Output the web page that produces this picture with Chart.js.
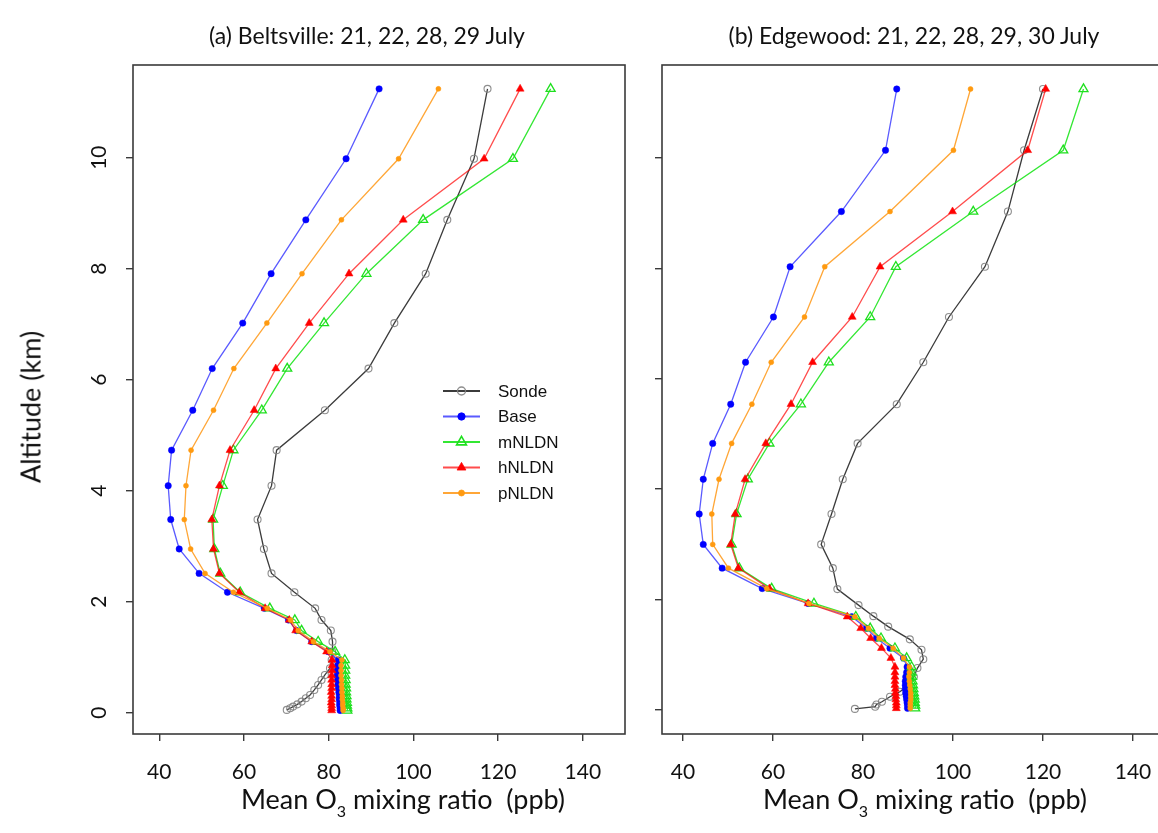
<!DOCTYPE html>
<html>
<head>
<meta charset="utf-8">
<script src="https://cdn.jsdelivr.net/npm/chart.js@4.4.1/dist/chart.umd.min.js"></script>
<style>
  html, body { margin: 0; padding: 0; background: #fff; overflow: hidden; width: 1158px; height: 833px; }
  #wrap { position: relative; width: 1158px; height: 833px; overflow: hidden; }
  canvas { position: absolute; top: 0; }
  #cA { left: 0; }
  #cB { left: 640px; }
  .lbl { position: absolute; font-family: Lato, "Open Sans", sans-serif; color: #111; white-space: nowrap; transform: translate(-50%, -50%); }
  .ttl { font-size: 23px; }
  .axt { font-size: 27px; }
  .axt sub { font-size: 16px; vertical-align: -8px; }
  .rot { transform: translate(-50%, -50%) rotate(-90deg); }
</style>
</head>
<body>
<div id="wrap">
  <canvas id="cA" width="640" height="833"></canvas>
  <canvas id="cB" width="560" height="833"></canvas>
  <div class="lbl ttl" style="left:367px; top:35px;">(a) Beltsville: 21, 22, 28, 29 July</div>
  <div class="lbl ttl" style="left:914px; top:35px;">(b) Edgewood: 21, 22, 28, 29, 30 July</div>
  <div class="lbl axt" style="left:403px; top:801px;">Mean O<sub>3</sub> mixing ratio&nbsp; (ppb)</div>
  <div class="lbl axt" style="left:925px; top:801px;">Mean O<sub>3</sub> mixing ratio&nbsp; (ppb)</div>
  <div class="lbl axt rot" style="left:30px; top:407px;">Altitude (km)</div>
</div>
<script>
// ---- tick values ----
const xTickValues = [40, 60, 80, 100, 120, 140];
const yTickValues = [0, 2, 4, 6, 8, 10];

// ---- (a) Beltsville ----
// model layer altitudes (km)
const altModelA = [0.04, 0.08, 0.13, 0.18, 0.24, 0.30, 0.37, 0.44, 0.51, 0.59, 0.67, 0.76, 0.85, 0.95,
  1.10, 1.28, 1.48, 1.67, 1.88, 2.17, 2.51, 2.95, 3.48, 4.09, 4.73, 5.45, 6.20, 7.02, 7.91, 8.88, 9.98, 11.24];
const baseA = [82.7, 82.7, 82.6, 82.6, 82.5, 82.5, 82.4, 82.3, 82.2, 82.1, 82.0, 82.0, 82.1, 82.3,
  79.9, 76.0, 72.4, 70.5, 64.8, 56.1, 49.4, 44.7, 42.7, 42.1, 42.9, 47.9, 52.5, 59.7, 66.4, 74.6, 84.1, 91.9];
const mNLDNA = [84.4, 84.4, 84.3, 84.3, 84.2, 84.2, 84.1, 84.1, 84.0, 84.0, 83.9, 83.9, 83.9, 83.8,
  81.5, 77.5, 73.6, 72.0, 66.1, 59.1, 54.4, 53.0, 52.7, 55.0, 57.5, 64.2, 70.2, 78.9, 88.9, 102.3, 123.5, 132.4];
const hNLDNA = [80.7, 80.7, 80.7, 80.6, 80.7, 80.7, 80.6, 80.7, 80.7, 80.7, 80.7, 80.8, 80.8, 80.8,
  79.5, 76.0, 72.2, 70.7, 65.0, 58.9, 54.2, 52.8, 52.4, 54.2, 56.7, 62.4, 67.5, 75.4, 84.8, 97.6, 116.7, 125.2];
const pNLDNA = [83.4, 83.4, 83.3, 83.3, 83.2, 83.2, 83.1, 83.1, 83.0, 83.0, 82.9, 82.9, 82.9, 83.1,
  80.3, 76.4, 72.8, 71.0, 65.5, 57.5, 50.8, 47.4, 45.9, 46.3, 47.5, 52.8, 57.6, 65.4, 73.7, 83.0, 96.5, 105.9];
// ozonesonde profile
const altSondeA = [0.05, 0.08, 0.11, 0.15, 0.20, 0.26, 0.32, 0.41, 0.50, 0.59, 0.68, 0.80, 0.95, 1.10,
  1.28, 1.48, 1.67, 1.88, 2.17, 2.51, 2.95, 3.48, 4.09, 4.73, 5.45, 6.20, 7.02, 7.91, 8.88, 9.98, 11.24];
const sondeA = [70.1, 70.9, 71.6, 72.6, 73.6, 74.6, 75.6, 76.6, 77.5, 78.3, 79.1, 80.3, 80.7, 80.8,
  80.9, 80.5, 78.3, 76.8, 71.9, 66.5, 64.7, 63.2, 66.5, 67.7, 79.1, 89.4, 95.5, 102.9, 108.0, 114.3, 117.5];

// ---- (b) Edgewood ----
const altModelB = [0.03, 0.08, 0.13, 0.19, 0.25, 0.31, 0.38, 0.45, 0.52, 0.60, 0.68, 0.78, 0.94, 1.12,
  1.30, 1.48, 1.69, 1.93, 2.20, 2.57, 3.00, 3.55, 4.18, 4.83, 5.54, 6.30, 7.12, 8.03, 9.03, 10.14, 11.25];
const baseB = [89.9, 89.9, 89.8, 89.7, 89.6, 89.5, 89.4, 89.4, 89.4, 89.5, 89.7, 89.8, 89.0, 86.0,
  83.0, 80.8, 77.5, 67.8, 57.6, 48.7, 44.5, 43.6, 44.5, 46.6, 50.6, 53.9, 60.1, 63.8, 75.2, 85.0, 87.5];
const mNLDNB = [91.6, 91.6, 91.5, 91.5, 91.4, 91.3, 91.2, 91.1, 91.0, 90.9, 90.8, 90.8, 89.7, 87.1,
  84.0, 81.6, 78.4, 69.1, 59.7, 52.5, 50.8, 51.9, 54.4, 59.2, 66.2, 72.4, 81.6, 87.3, 104.5, 124.5, 129.0];
const hNLDNB = [87.4, 87.4, 87.4, 87.3, 87.3, 87.2, 87.2, 87.1, 87.1, 87.1, 87.1, 87.1, 86.2, 84.1,
  81.7, 79.5, 76.5, 67.8, 59.2, 52.3, 50.6, 51.6, 53.8, 58.4, 64.0, 68.8, 77.6, 83.8, 99.9, 116.6, 120.6];
const pNLDNB = [90.5, 90.5, 90.5, 90.6, 90.6, 90.6, 90.5, 90.4, 90.3, 90.2, 90.3, 90.3, 89.0, 86.7,
  83.6, 81.2, 78.2, 68.0, 58.6, 50.1, 46.6, 46.4, 48.0, 50.8, 55.3, 59.6, 67.0, 71.5, 86.0, 100.1, 103.9];
const altSondeB = [0.02, 0.06, 0.10, 0.15, 0.24, 0.33, 0.45, 0.60, 0.76, 0.92, 1.09, 1.28, 1.51, 1.70,
  1.90, 2.19, 2.57, 3.00, 3.55, 4.18, 4.83, 5.54, 6.30, 7.12, 8.03, 9.03, 10.14, 11.25];
const sondeB = [78.2, 82.7, 83.0, 84.2, 86.0, 88.2, 90.1, 91.3, 92.1, 93.4, 93.0, 90.4, 85.6, 82.3,
  79.0, 74.3, 73.3, 70.7, 73.0, 75.5, 78.8, 87.5, 93.4, 99.1, 107.1, 112.2, 115.8, 120.0];

// ---- series appearance ----
const seriesStyle = {
  Sonde: { line: 'rgba(25,25,25,0.85)', edge: 'rgba(130,130,130,0.9)', fill: 'rgba(255,255,255,0)', shape: 'circle', r: 3.5, bw: 1.1, order: 5 },
  Base:  { line: 'rgba(20,20,255,0.7)', edge: '#0000ff', fill: '#0000ff', shape: 'circle', r: 3.2, bw: 0.5, order: 4 },
  mNLDN: { line: 'rgba(0,225,0,0.8)', edge: '#1ee01e', fill: 'rgba(255,255,255,0)', shape: 'triangle', r: 5.2, bw: 1.3, order: 3 },
  hNLDN: { line: 'rgba(255,0,0,0.7)', edge: '#ff0000', fill: '#ff0000', shape: 'triangle', r: 4.6, bw: 0.5, order: 2 },
  pNLDN: { line: 'rgba(255,150,20,0.85)', edge: '#ff9a10', fill: '#ff9a10', shape: 'circle', r: 2.5, bw: 0.5, order: 1 }
};

function makeDataset(name, alts, vals) {
  const s = seriesStyle[name];
  return {
    label: name,
    data: alts.map((a, i) => ({ x: vals[i], y: a })),
    showLine: true,
    borderColor: s.line,
    borderWidth: 1.3,
    pointStyle: s.shape,
    pointRadius: s.r,
    pointBorderWidth: s.bw,
    pointBorderColor: s.edge,
    pointBackgroundColor: s.fill,
    pointHoverRadius: s.r,
    tension: 0,
    order: s.order
  };
}

function drawMarker(ctx, shape, r, x, y, fill, stroke, bw) {
  ctx.beginPath();
  if (shape === 'triangle') {
    let rad = 0;
    const step = 2 * Math.PI / 3;
    ctx.moveTo(x + Math.sin(rad) * r, y - Math.cos(rad) * r);
    rad += step; ctx.lineTo(x + Math.sin(rad) * r, y - Math.cos(rad) * r);
    rad += step; ctx.lineTo(x + Math.sin(rad) * r, y - Math.cos(rad) * r);
    ctx.closePath();
  } else {
    ctx.arc(x, y, r, 0, Math.PI * 2);
  }
  ctx.fillStyle = fill; ctx.fill();
  ctx.lineWidth = bw; ctx.strokeStyle = stroke; ctx.stroke();
}

// box around the plotting region
const framePlugin = {
  id: 'frame',
  afterDraw(chart) {
    const { ctx, chartArea: a } = chart;
    ctx.save();
    ctx.strokeStyle = '#3a3a3a';
    ctx.lineWidth = 1.6;
    ctx.strokeRect(a.left, a.top, a.right - a.left, a.bottom - a.top);
    ctx.restore();
  }
};

// boxless legend placed inside panel (a)
const insetLegend = {
  id: 'insetLegend',
  afterDraw(chart, args, opts) {
    if (!opts.show) return;
    const ctx = chart.ctx;
    ctx.save();
    ctx.font = '17px "Liberation Sans", Arial, sans-serif';
    ctx.textBaseline = 'middle';
    ctx.textAlign = 'left';
    chart.data.datasets.forEach((ds, i) => {
      const s = seriesStyle[ds.label];
      const y = opts.y + i * opts.step;
      ctx.beginPath();
      ctx.moveTo(opts.x, y);
      ctx.lineTo(opts.x + opts.len, y);
      ctx.strokeStyle = s.line;
      ctx.lineWidth = 2;
      ctx.stroke();
      drawMarker(ctx, s.shape, s.r + 0.5, opts.x + opts.len / 2, y, s.fill, s.edge, s.bw + 0.3);
      ctx.fillStyle = '#111';
      ctx.fillText(ds.label, opts.x + opts.len + 18, y + 1);
    });
    ctx.restore();
  }
};

function makePanel(canvasId, p) {
  const axisGrid = { display: true, drawOnChartArea: false, drawTicks: true, tickLength: 7, color: '#3a3a3a', lineWidth: 1.4 };
  return new Chart(document.getElementById(canvasId), {
    type: 'scatter',
    data: {
      datasets: [
        makeDataset('Sonde', p.altSonde, p.sonde),
        makeDataset('Base', p.altModel, p.base),
        makeDataset('mNLDN', p.altModel, p.m),
        makeDataset('hNLDN', p.altModel, p.h),
        makeDataset('pNLDN', p.altModel, p.pn)
      ]
    },
    options: {
      responsive: false,
      animation: false,
      devicePixelRatio: 1,
      layout: { padding: { top: 65, right: p.padRight, left: 0, bottom: 0 } },
      plugins: {
        legend: { display: false },
        tooltip: { enabled: false },
        insetLegend: p.legend
      },
      scales: {
        x: {
          type: 'linear', min: p.xmin, max: p.xmax,
          afterBuildTicks: s => { s.ticks = xTickValues.map(v => ({ value: v })); },
          afterFit: s => { s.height = 99; },
          grid: axisGrid,
          border: { display: false },
          ticks: { padding: 19, autoSkip: false, maxRotation: 0, color: '#111', font: { family: 'Lato', size: 21 } }
        },
        y: {
          type: 'linear', min: p.ymin, max: p.ymax,
          afterBuildTicks: s => { s.ticks = yTickValues.map(v => ({ value: v })); },
          afterFit: s => { s.width = p.yWidth; },
          grid: axisGrid,
          border: { display: false },
          ticks: { display: p.yLabels, padding: 15, minRotation: 90, maxRotation: 90, crossAlign: 'center', autoSkip: false, color: '#111', font: { family: 'Lato', size: 21 } }
        }
      }
    },
    plugins: [framePlugin, insetLegend]
  });
}

makePanel('cA', {
  altModel: altModelA, base: baseA, m: mNLDNA, h: hNLDNA, pn: pNLDNA,
  altSonde: altSondeA, sonde: sondeA,
  xmin: 33.79, xmax: 149.96, ymin: -0.384, ymax: 11.67,
  padRight: 15, yWidth: 133, yLabels: true,
  legend: { show: true, x: 443, y: 391, step: 25.5, len: 37 }
});

makePanel('cB', {
  altModel: altModelB, base: baseB, m: mNLDNB, h: hNLDNB, pn: pNLDNB,
  altSonde: altSondeB, sonde: sondeB,
  xmin: 35.33, xmax: 146.67, ymin: -0.435, ymax: 11.685,
  padRight: 37, yWidth: 22, yLabels: false,
  legend: { show: false }
});
</script>
</body>
</html>
